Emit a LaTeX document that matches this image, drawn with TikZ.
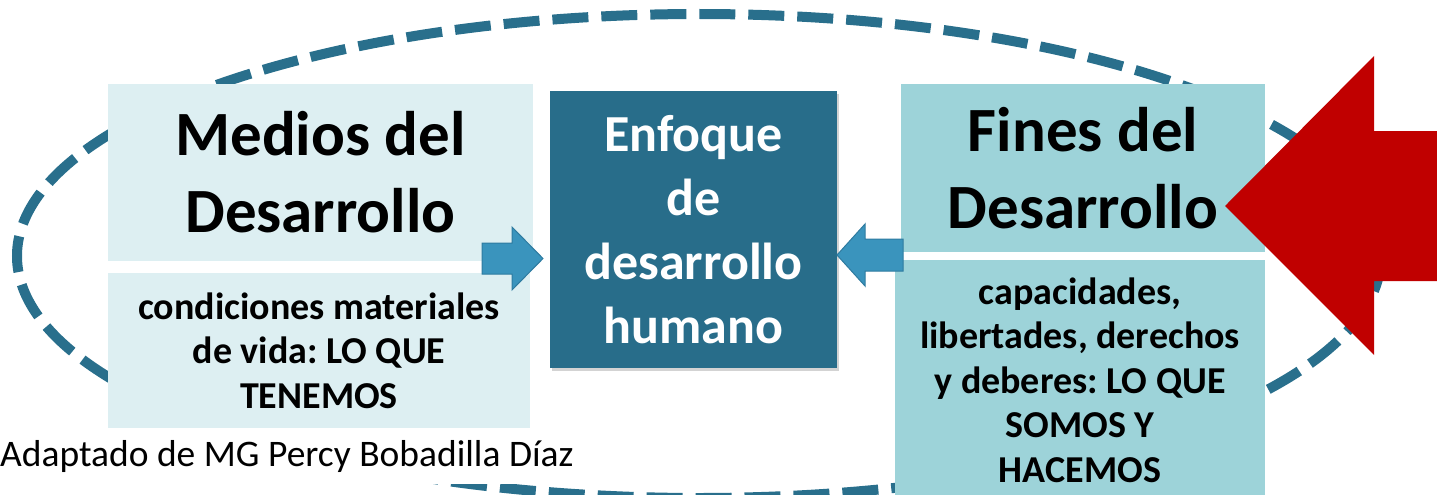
\documentclass[tikz,border=0pt]{standalone}
\usepackage{fontspec}
\setmainfont{Carlito}
\usepackage{tikz}
\usetikzlibrary{shadows}
\definecolor{mediosblue}{HTML}{DDEFF2}
\definecolor{finesblue}{HTML}{9DD3D9}
\definecolor{enfoqueteal}{HTML}{286D8A}
\definecolor{ringteal}{HTML}{296F8C}
\definecolor{arrowblue}{HTML}{3A94BD}
\definecolor{arrowedge}{HTML}{2E7BA0}
\definecolor{bigred}{HTML}{C00000}
\frenchspacing

\begin{document}
\begin{tikzpicture}[x=1pt,y=-1pt,
        box/.style={rectangle, inner sep=0pt, align=center, text=black},
        titlebox/.style={box, font=\bfseries\fontsize{63}{77}\selectfont},
        bodybox/.style={box, font=\bfseries\fontsize{38}{44.5}\selectfont},
        ring/.style={draw=ringteal, line width=10pt, dash pattern=on 36pt off 13pt},
        smallarrow/.style={fill=arrowblue, draw=arrowedge, line width=1pt, line join=miter},
        caption/.style={fill=white, inner xsep=2pt, inner ysep=12pt, font=\fontsize{37.5}{40}\selectfont}
    ]
    \useasboundingbox (0,0) rectangle (1437,495);
    % dashed ring behind everything
    \draw[ring] (699,256) ellipse [x radius=682, y radius=242];
    \node[caption, anchor=base west] (fuente) at (-2,466) {Adaptado de MG Percy Bobadilla Díaz};
    % medios
    \node[titlebox, fill=mediosblue, minimum width=425pt, minimum height=177pt] (mediostop) at (320.5,172.5) {Medios del\\Desarrollo};
    \node[bodybox, fill=mediosblue, minimum width=422pt, minimum height=155pt] (mediosbot) at (319,350.5) {condiciones materiales\\de vida: LO QUE\\TENEMOS};
    % enfoque
    \node[box, fill=enfoqueteal, text=white, minimum width=287pt, minimum height=277pt,
        font=\bfseries\fontsize{52}{64}\selectfont,
        drop shadow={opacity=0.35, shadow xshift=2pt, shadow yshift=-3pt}] (enfoque) at (693.5,229.5) {Enfoque\\de\\desarrollo\\humano};
    % fines
    \node[titlebox, fill=finesblue, minimum width=364pt, minimum height=168pt] (finestop) at (1083,168) {Fines del\\Desarrollo};
    \node[bodybox, fill=finesblue, minimum width=370pt, minimum height=240pt] (finesbot) at (1080,380) {capacidades,\\libertades, derechos\\y deberes: LO QUE\\SOMOS Y\\HACEMOS};
    % block arrows
    \draw[smallarrow] (482,243) -- (512,243) -- (512,227) -- (543,258.5) -- (512,290) -- (512,274) -- (482,274) -- cycle;
    \draw[smallarrow] (903,239) -- (865,239) -- (865,224) -- (837,255) -- (865,286) -- (865,271) -- (903,271) -- cycle;
    \fill[bigred] (1225,206) -- (1374,56) -- (1374,131) -- (1440,131) -- (1440,281) -- (1374,281) -- (1374,355) -- cycle;
\end{tikzpicture}
\end{document}
